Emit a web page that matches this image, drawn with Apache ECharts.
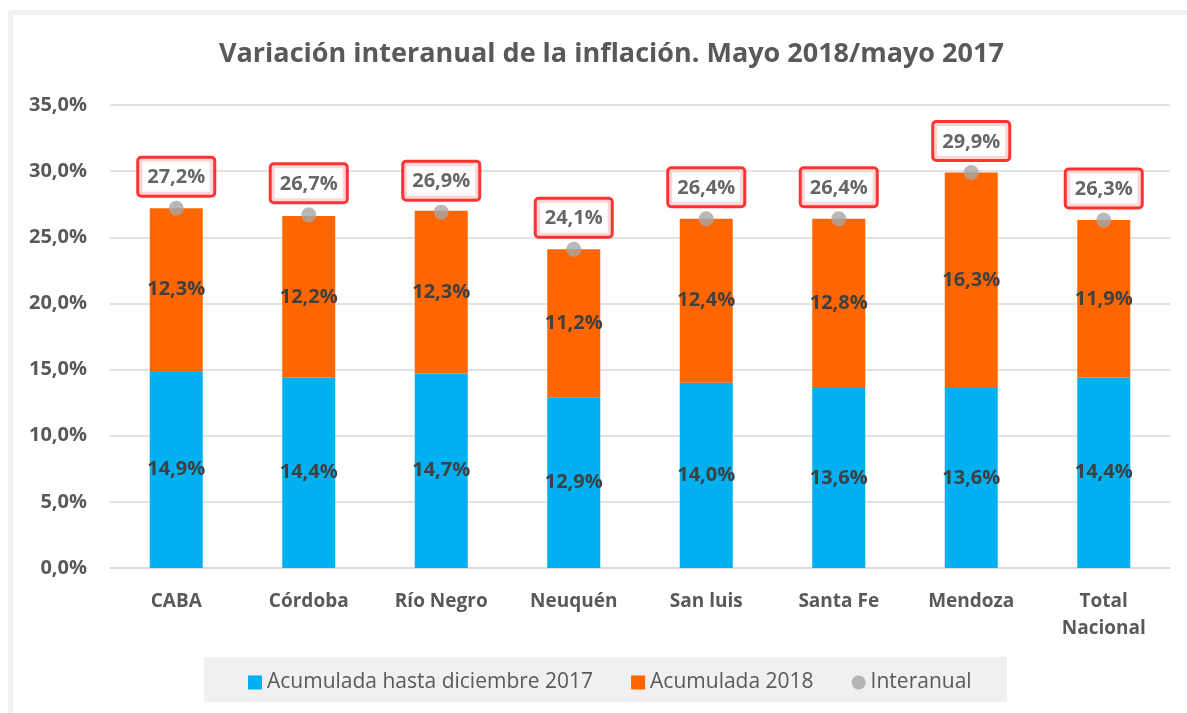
<!DOCTYPE html>
<html><head><meta charset="utf-8">
<script src="https://cdn.jsdelivr.net/npm/echarts@6/dist/echarts.min.js"></script>
<style>html,body{margin:0;padding:0;background:#fff}#c{width:1187px;height:713px}</style>
</head><body><div id="c"></div>
<script>
const categories = ['CABA','Córdoba','Río Negro','Neuquén','San luis','Santa Fe','Mendoza','Total\nNacional'];
const acum2017 = [14.9,14.4,14.7,12.9,14.0,13.6,13.6,14.4];
const acum2018 = [12.3,12.2,12.3,11.2,12.4,12.8,16.3,11.9];
const interanual = [27.2,26.7,26.9,24.1,26.4,26.4,29.9,26.3];
const yTicks = [0,5,10,15,20,25,30,35];

const FONT = '"Open Sans", sans-serif';
const fmt = v => v.toFixed(1).replace('.', ',') + '%';
const chart = echarts.init(document.getElementById('c'));
chart.setOption({
  animation: false,
  backgroundColor: '#fff',
  graphic: [
    {type:'rect', shape:{x:8,y:10,width:1179,height:5}, style:{fill:'#F2F2F2'}, silent:true, z:-10},
    {type:'rect', shape:{x:8,y:10,width:5,height:703}, style:{fill:'#F2F2F2'}, silent:true, z:-10},
    {type:'rect', shape:{x:204,y:657,width:803,height:45}, style:{fill:'#F0F0F0'}, silent:true, z:-10}
  ],
  title: {
    text: 'Variación interanual de la inflación. Mayo 2018/mayo 2017',
    left: 214, top: 36,
    textStyle: {fontFamily: FONT, fontSize: 27, fontWeight: 'bold', color: '#595959'}
  },
  legend: {
    left: 243, top: 667, itemGap: 38,
    itemWidth: 14, itemHeight: 14,
    textStyle: {fontFamily: FONT, fontSize: 21, color: '#595959'},
    data: [
      {name:'Acumulada hasta diciembre 2017', icon:'rect'},
      {name:'Acumulada 2018', icon:'rect'},
      {name:'Interanual', icon:'circle'}
    ]
  },
  grid: {left: 110, right: 17, top: 105, bottom: 145},
  xAxis: {
    type: 'category', data: categories,
    axisLine: {lineStyle: {color: '#D9D9D9', width: 1.5}},
    axisTick: {show: false},
    axisLabel: {fontFamily: FONT, fontSize: 19, fontWeight: 'bold', color: '#595959', margin: 20, lineHeight: 27}
  },
  yAxis: {
    type: 'value', min: 0, max: 35, interval: 5,
    axisLine: {show: false}, axisTick: {show: false},
    splitLine: {lineStyle: {color: '#D9D9D9', width: 1.5}},
    axisLabel: {fontFamily: FONT, fontSize: 20, fontWeight: 'bold', color: '#595959', margin: 23,
      formatter: v => v.toFixed(1).replace('.', ',') + '%'}
  },
  series: [
    {
      name: 'Acumulada hasta diciembre 2017', type: 'bar', stack: 't', data: acum2017,
      barWidth: '40%', itemStyle: {color: '#00B0F0'},
      label: {show: true, position: 'inside', formatter: p => fmt(p.value),
        fontFamily: FONT, fontSize: 20, fontWeight: 'bold', color: '#404040'}
    },
    {
      name: 'Acumulada 2018', type: 'bar', stack: 't', data: acum2018,
      barWidth: '40%', itemStyle: {color: '#FF6600'},
      label: {show: true, position: 'inside', formatter: p => fmt(p.value),
        fontFamily: FONT, fontSize: 20, fontWeight: 'bold', color: '#404040'}
    },
    {
      name: 'Interanual', type: 'scatter', data: interanual, z: 5,
      symbol: 'circle', symbolSize: 15, itemStyle: {color: '#A6A6A6'},
      label: {show: true, position: 'top', distance: 6, formatter: p => fmt(p.value),
        fontFamily: FONT, fontSize: 20, fontWeight: 'bold', color: '#404040', lineHeight: 24,
        backgroundColor: '#fff', borderColor: '#FF0000', borderWidth: 3, borderRadius: 2,
        padding: [7, 8, 5, 8]}
    }
  ]
});
</script></body></html>
